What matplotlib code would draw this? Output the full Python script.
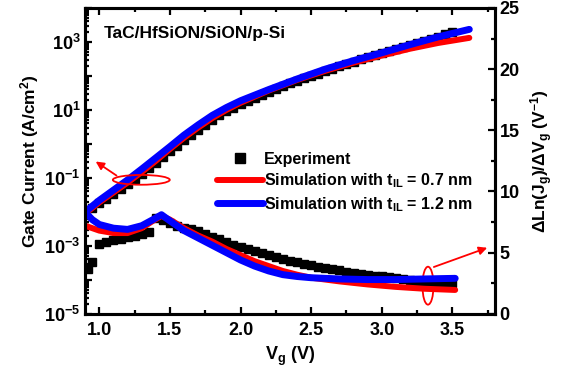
import numpy as np
import matplotlib.pyplot as plt
from matplotlib.patches import Ellipse
from matplotlib.lines import Line2D
from matplotlib.ticker import LogLocator, MultipleLocator, NullFormatter

plt.rcParams['font.family'] = ['Liberation Sans', 'DejaVu Sans']
plt.rcParams['font.weight'] = 'bold'
plt.rcParams['mathtext.fontset'] = 'custom'
plt.rcParams['mathtext.rm'] = 'Liberation Sans:bold'
plt.rcParams['mathtext.bf'] = 'Liberation Sans:bold'
plt.rcParams['mathtext.it'] = 'Liberation Sans:bold'
plt.rcParams['mathtext.default'] = 'bf'

# experiment (black squares), sampled every 0.05 V
v_exp = np.round(np.arange(0.95, 3.501, 0.05), 2)
logj_exp = [-1.9, -1.75, -1.61, -1.47, -1.33, -1.18, -1.03, -0.88, -0.72, -0.55,
            -0.38, -0.21, -0.05, 0.11, 0.27, 0.42, 0.57, 0.71, 0.84, 0.96,
            1.07, 1.17, 1.27, 1.36, 1.45, 1.54, 1.62, 1.70, 1.78, 1.86,
            1.93, 2.00, 2.07, 2.14, 2.21, 2.28, 2.35, 2.42, 2.49, 2.56,
            2.62, 2.68, 2.74, 2.80, 2.86, 2.92, 2.98, 3.04, 3.10, 3.16,
            3.23, 3.30]
dln_exp = [4.2, 5.7, 5.85, 6.0, 6.1, 6.25, 6.4, 6.5, 6.65, 7.8,
           7.7, 7.4, 7.2, 7.0, 6.9, 6.8, 6.5, 6.3, 6.1, 5.9,
           5.65, 5.45, 5.3, 5.1, 4.95, 4.8, 4.65, 4.5, 4.35, 4.2,
           4.05, 3.95, 3.85, 3.75, 3.65, 3.55, 3.45, 3.35, 3.28, 3.2,
           3.12, 3.05, 2.98, 2.9, 2.82, 2.75, 2.7, 2.65, 2.6, 2.55,
           2.52, 2.5]
v_exp_extra = [0.92]
dln_exp_extra = [3.7]

# simulated gate current (log10 of A/cm2)
v_sim_up = [0.9, 1.0, 1.1, 1.2, 1.3, 1.4, 1.5, 1.6, 1.7, 1.8, 1.9, 2.0,
            2.2, 2.4, 2.6, 2.8, 3.0, 3.2, 3.4, 3.62]
logj_07 = [-2.05, -1.72, -1.43, -1.14, -0.83, -0.5, -0.15, 0.18, 0.48, 0.76,
           1.0, 1.21, 1.57, 1.88, 2.15, 2.39, 2.6, 2.8, 2.97, 3.12]
logj_12 = [-2.0, -1.66, -1.36, -1.06, -0.74, -0.41, -0.08, 0.26, 0.56, 0.84,
           1.07, 1.27, 1.6, 1.91, 2.2, 2.45, 2.68, 2.92, 3.15, 3.37]

# simulated dLn(Jg)/dVg
v_sim_lo = [0.9, 0.95, 1.0, 1.1, 1.2, 1.3, 1.38, 1.44, 1.5, 1.6, 1.7, 1.8,
            1.9, 2.0, 2.1, 2.2, 2.3, 2.4, 2.5, 2.7, 2.9, 3.1, 3.3, 3.52]
dln_07 = [7.2, 7.0, 6.8, 6.6, 6.6, 7.0, 7.6, 8.0, 7.7, 7.0, 6.4, 5.9,
          5.3, 4.8, 4.3, 3.9, 3.5, 3.2, 2.95, 2.65, 2.4, 2.2, 2.05, 1.95]
dln_12 = [8.3, 7.7, 7.3, 7.0, 6.9, 7.2, 7.7, 8.1, 7.6, 6.8, 6.2, 5.6,
          5.0, 4.4, 3.9, 3.5, 3.2, 3.05, 2.95, 2.85, 2.8, 2.8, 2.85, 2.9]

fig, ax = plt.subplots(figsize=(5.68, 3.79), dpi=100)
fig.subplots_adjust(left=0.150, right=0.871, bottom=0.172, top=0.979)
ax2 = ax.twinx()

ms = 6.3
lw_r, lw_b = 4.3, 5.0

ax.plot(v_exp, 10.0 ** np.array(logj_exp), 's', color='black', ms=ms, mec='black')
ax.plot(v_sim_up, 10.0 ** np.array(logj_07), '-', color='#ff0000', lw=lw_r, solid_capstyle='round')
ax.plot(v_sim_up, 10.0 ** np.array(logj_12), '-', color='#0000ff', lw=lw_b, solid_capstyle='round')

ax2.plot(v_exp, dln_exp, 's', color='black', ms=ms)
ax2.plot(v_exp_extra, dln_exp_extra, 's', color='black', ms=ms)
ax2.plot(v_sim_lo, dln_07, '-', color='#ff0000', lw=lw_r, solid_capstyle='round')
ax2.plot(v_sim_lo, dln_12, '-', color='#0000ff', lw=lw_b, solid_capstyle='round')

ax.set_xlim(0.9, 3.8)
ax.set_yscale('log')
ax.set_ylim(1e-5, 1e4)
ax2.set_ylim(0, 25)

ax.set_xticks([1.0, 1.5, 2.0, 2.5, 3.0, 3.5])
ax.set_xticklabels(['1.0', '1.5', '2.0', '2.5', '3.0', '3.5'])
ax.xaxis.set_minor_locator(MultipleLocator(0.25))
ax.set_yticks([10.0 ** k for k in range(-5, 5)])
ax.set_yticklabels([r'$10^{%d}$' % k if k % 2 else '' for k in range(-5, 5)])
ax.yaxis.set_minor_locator(LogLocator(base=10, subs=np.arange(2, 10), numticks=20))
ax.yaxis.set_minor_formatter(NullFormatter())
ax2.set_yticks([0, 5, 10, 15, 20, 25])
ax2.yaxis.set_minor_locator(MultipleLocator(2.5))

for a in (ax, ax2):
    for s in a.spines.values():
        s.set_linewidth(2.2)
ax.tick_params(which='both', direction='in', top=True, right=False, width=1.6, labelsize=13)
ax.tick_params(which='major', length=5)
ax.tick_params(which='minor', length=2.8)
ax.tick_params(axis='x', pad=6)
ax2.tick_params(which='both', direction='in', width=1.6, labelsize=13)
ax2.tick_params(which='major', length=5)
ax2.tick_params(which='minor', length=2.8)

ax.set_xlabel(r'V$_g$ (V)', fontsize=13, fontweight='bold', labelpad=4)
ax.set_ylabel(r'Gate Current (A/cm$^2$)', fontsize=12.5, fontweight='bold', labelpad=2)
ax2.set_ylabel(r'ΔLn(J$_g$)/ΔV$_g$ (V$^{-1}$)', fontsize=12.5, fontweight='bold', labelpad=6)

ax.text(0.045, 0.915, 'TaC/HfSiON/SiON/p-Si', transform=ax.transAxes,
        fontsize=12.5, fontweight='bold', va='center', ha='left')

# red ellipses and arrows pointing to the matching axis
ax2.add_patch(Ellipse((0.137, 0.438), 0.139, 0.032, transform=ax.transAxes,
                      fill=False, ec='#ff0000', lw=1.3))
ax2.add_patch(Ellipse((0.837, 0.092), 0.027, 0.124, transform=ax.transAxes,
                      fill=False, ec='#ff0000', lw=1.3))
ax2.annotate('', xy=(0.02, 0.503), xytext=(0.082, 0.447), xycoords='axes fraction',
             arrowprops=dict(arrowstyle='-|>', color='#ff0000', lw=1.3, mutation_scale=12))
ax2.annotate('', xy=(0.988, 0.219), xytext=(0.845, 0.150), xycoords='axes fraction',
             arrowprops=dict(arrowstyle='-|>', color='#ff0000', lw=1.3, mutation_scale=12))

handles = [Line2D([], [], ls='none', marker='s', color='black', ms=7),
           Line2D([], [], color='#ff0000', lw=lw_r, solid_capstyle='round'),
           Line2D([], [], color='#0000ff', lw=lw_b, solid_capstyle='round')]
labels = ['Experiment', r'Simulation with t$_{IL}$ = 0.7 nm', r'Simulation with t$_{IL}$ = 1.2 nm']
ax2.legend(handles, labels, loc='upper left', bbox_to_anchor=(0.322, 0.53), frameon=False,
           borderpad=0, borderaxespad=0, handlelength=2.9, handletextpad=0.05,
           labelspacing=0.3, prop={'size': 11.5, 'weight': 'bold'})

fig.savefig('out.png', dpi=100)
